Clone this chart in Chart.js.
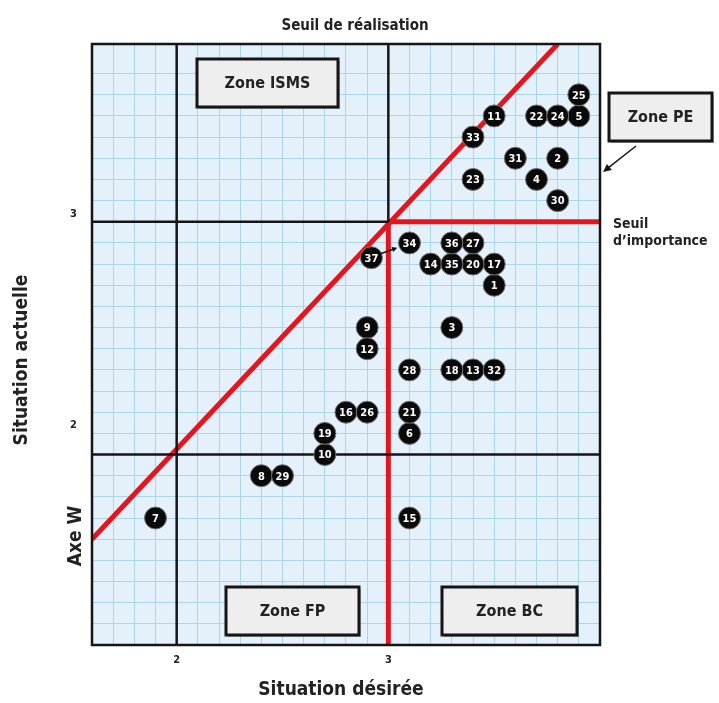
<!DOCTYPE html>
<html>
<head>
<meta charset="utf-8">
<script src="https://cdn.jsdelivr.net/npm/chart.js@4.4.0/dist/chart.umd.min.js"></script>
<style>
  html, body { margin: 0; background: #fff; }
  #wrap { width: 719px; height: 703px; position: relative; }
</style>
</head>
<body>
<div id="wrap"><canvas id="matrice"></canvas></div>
<script>
// numéros des points et positions (situation désirée / situation actuelle)
const pointIds = [1, 2, 3, 4, 5, 6, 7, 8, 9, 10, 11, 12, 13, 14, 15, 16, 17, 18, 19, 20,
                  21, 22, 23, 24, 25, 26, 27, 28, 29, 30, 31, 32, 33, 34, 35, 36, 37];
const desiree  = [3.5, 3.8, 3.3, 3.7, 3.9, 3.1, 1.9, 2.4, 2.9, 2.7, 3.5, 2.9, 3.4, 3.2, 3.1, 2.8, 3.5, 3.3, 2.7, 3.4,
                  3.1, 3.7, 3.4, 3.8, 3.9, 2.9, 3.4, 3.1, 2.5, 3.8, 3.6, 3.5, 3.4, 3.1, 3.3, 3.3, 2.92];
const actuelle = [2.7, 3.3, 2.5, 3.2, 3.5, 2.0, 1.6, 1.8, 2.5, 1.9, 3.5, 2.4, 2.3, 2.8, 1.6, 2.1, 2.8, 2.3, 2.0, 2.8,
                  2.1, 3.5, 3.2, 3.5, 3.6, 2.1, 2.9, 2.3, 1.8, 3.1, 3.3, 2.3, 3.4, 2.9, 2.8, 2.9, 2.83];

// axes
const xMin = 1.6, xMax = 4.0;
const yMin = 1.0, yMax = 3.84;
const tickLabels = [2, 3];

// seuils
const seuilImportance = 3;   // horizontal rouge / noir
const seuilDesire = 3;       // vertical rouge / noir
const seuilBasY = 1.9;       // horizontale noire basse
const seuilBasX = 2;         // verticale noire gauche
const diagX = [1.6, 3.8];    // seuil de réalisation
const diagY = [1.5, 3.84];

const pts = pointIds.map((id, i) => ({ x: desiree[i], y: actuelle[i], id: id }));

const FONT = '"Liberation Sans Narrow", "DejaVu Sans Condensed", "Arial Narrow", sans-serif';
const RED = '#e3161f';
const BLACK = '#151515';

function seg(x1, y1, x2, y2) { return [{ x: x1, y: y1 }, { x: x2, y: y2 }]; }

function lineSet(data, color, width) {
  return {
    type: 'line', data: data, borderColor: color, borderWidth: width,
    pointRadius: 0, fill: false, tension: 0, order: 2, borderCapStyle: 'butt'
  };
}

// fond bleu clair + cadre
const fondPlugin = {
  id: 'fond',
  beforeDraw(chart) {
    const { ctx, chartArea: a } = chart;
    ctx.save();
    ctx.fillStyle = '#e5f1fa';
    ctx.fillRect(a.left, a.top, a.right - a.left, a.bottom - a.top);
    ctx.restore();
  }
};

function boite(ctx, x, y, w, h, txt) {
  ctx.save();
  ctx.fillStyle = 'rgba(0,0,0,0.25)';
  ctx.fillRect(x + 2, y + 2, w, h);
  ctx.fillStyle = '#eeeeee';
  ctx.fillRect(x, y, w, h);
  ctx.lineWidth = 3;
  ctx.strokeStyle = BLACK;
  ctx.strokeRect(x, y, w, h);
  ctx.fillStyle = '#222';
  ctx.font = 'bold 16px ' + FONT;
  ctx.textAlign = 'center';
  ctx.textBaseline = 'middle';
  ctx.fillText(txt, x + w / 2, y + h / 2 + 1);
  ctx.restore();
}

function fleche(ctx, x1, y1, x2, y2, head) {
  const ang = Math.atan2(y2 - y1, x2 - x1);
  ctx.save();
  ctx.strokeStyle = BLACK;
  ctx.fillStyle = BLACK;
  ctx.lineWidth = 1.5;
  ctx.beginPath();
  ctx.moveTo(x1, y1);
  ctx.lineTo(x2 - Math.cos(ang) * head * 0.6, y2 - Math.sin(ang) * head * 0.6);
  ctx.stroke();
  ctx.beginPath();
  ctx.moveTo(x2, y2);
  ctx.lineTo(x2 - head * Math.cos(ang - 0.45), y2 - head * Math.sin(ang - 0.45));
  ctx.lineTo(x2 - head * Math.cos(ang + 0.45), y2 - head * Math.sin(ang + 0.45));
  ctx.closePath();
  ctx.fill();
  ctx.restore();
}

const annotPlugin = {
  id: 'annot',
  afterDatasetsDraw(chart) {
    const { ctx, chartArea: a, scales } = chart;

    // cadre
    ctx.save();
    ctx.lineWidth = 2.5;
    ctx.strokeStyle = BLACK;
    ctx.strokeRect(a.left, a.top, a.right - a.left, a.bottom - a.top);
    ctx.restore();

    // numéros dans les cercles
    const meta = chart.getDatasetMeta(0);
    ctx.save();
    ctx.fillStyle = '#fff';
    ctx.font = 'bold 11px ' + FONT;
    ctx.textAlign = 'center';
    ctx.textBaseline = 'middle';
    meta.data.forEach((el, i) => {
      ctx.fillText(String(pts[i].id), el.x, el.y + 1);
    });
    ctx.restore();

    // petite flèche 37 -> 34
    const p37 = meta.data[36];
    fleche(ctx, p37.x + 9, p37.y - 4, p37.x + 26, p37.y - 10, 6);

    // zones
    boite(ctx, 197, 59, 141, 48, 'Zone ISMS');
    boite(ctx, 226, 587, 133, 48, 'Zone FP');
    boite(ctx, 442, 587, 135, 48, 'Zone BC');
    boite(ctx, 609, 93, 103, 48, 'Zone PE');
    fleche(ctx, 636, 146, 603, 172, 9);

    // textes
    ctx.save();
    ctx.fillStyle = '#222';
    ctx.textBaseline = 'middle';
    ctx.textAlign = 'center';
    ctx.font = 'bold 15px ' + FONT;
    ctx.fillText('Seuil de réalisation', 355, 26);
    ctx.font = 'bold 19px ' + FONT;
    ctx.fillText('Situation désirée', 341, 690);
    ctx.textAlign = 'left';
    ctx.font = 'bold 14px ' + FONT;
    ctx.fillText('Seuil', 613, 224);
    ctx.fillText('d\u2019importance', 613, 241);
    ctx.textAlign = 'center';
    ctx.font = 'bold 19px ' + FONT;
    ctx.translate(22, 360);
    ctx.rotate(-Math.PI / 2);
    ctx.fillText('Situation actuelle', 0, 0);
    ctx.restore();
    ctx.save();
    ctx.fillStyle = '#222';
    ctx.textBaseline = 'middle';
    ctx.textAlign = 'center';
    ctx.font = 'bold 19px ' + FONT;
    ctx.translate(76, 536);
    ctx.rotate(-Math.PI / 2);
    ctx.fillText('Axe W', 0, 0);
    ctx.restore();
  }
};

const tickCb = (v) => {
  const t = tickLabels.find(l => Math.abs(v - l) < 1e-6);
  return t === undefined ? '' : String(t);
};

new Chart(document.getElementById('matrice'), {
  type: 'scatter',
  data: {
    datasets: [
      {
        data: pts,
        pointRadius: 11,
        pointHoverRadius: 11,
        pointBackgroundColor: '#0a0a0a',
        pointBorderColor: '#777',
        pointBorderWidth: 1,
        order: 1
      },
      lineSet(seg(seuilBasX, yMin, seuilBasX, yMax), BLACK, 2.5),
      lineSet(seg(seuilDesire, seuilImportance, seuilDesire, yMax), BLACK, 2.5),
      lineSet(seg(xMin, seuilBasY, xMax, seuilBasY), BLACK, 2.5),
      lineSet(seg(xMin, seuilImportance, seuilDesire, seuilImportance), BLACK, 2.5),
      lineSet(seg(seuilDesire, yMin, seuilDesire, seuilImportance), RED, 5),
      lineSet(seg(seuilDesire, seuilImportance, xMax, seuilImportance), RED, 5),
      lineSet(seg(diagX[0], diagY[0], diagX[1], diagY[1]), RED, 5)
    ]
  },
  options: {
    responsive: true,
    maintainAspectRatio: false,
    animation: false,
    events: [],
    layout: { padding: { left: 0, top: 44, right: 119, bottom: 0 } },
    plugins: { legend: { display: false }, tooltip: { enabled: false } },
    scales: {
      x: {
        type: 'linear', min: xMin, max: xMax,
        afterFit(s) { s.height = 58; },
        grid: { color: '#a8d6ee', lineWidth: 1, drawTicks: false },
        border: { display: false },
        ticks: {
          stepSize: 0.1, autoSkip: false, maxRotation: 0, padding: 9,
          color: '#222', font: { family: FONT, size: 11, weight: 'bold' },
          callback: tickCb
        }
      },
      y: {
        type: 'linear', min: yMin, max: yMax,
        afterFit(s) { s.width = 92; },
        grid: { color: '#a8d6ee', lineWidth: 1, drawTicks: false },
        border: { display: false },
        ticks: {
          stepSize: 0.1, autoSkip: false, padding: 15, labelOffset: -8,
          color: '#222', font: { family: FONT, size: 11, weight: 'bold' },
          callback: tickCb
        }
      }
    }
  },
  plugins: [fondPlugin, annotPlugin]
});
</script>
</body>
</html>
